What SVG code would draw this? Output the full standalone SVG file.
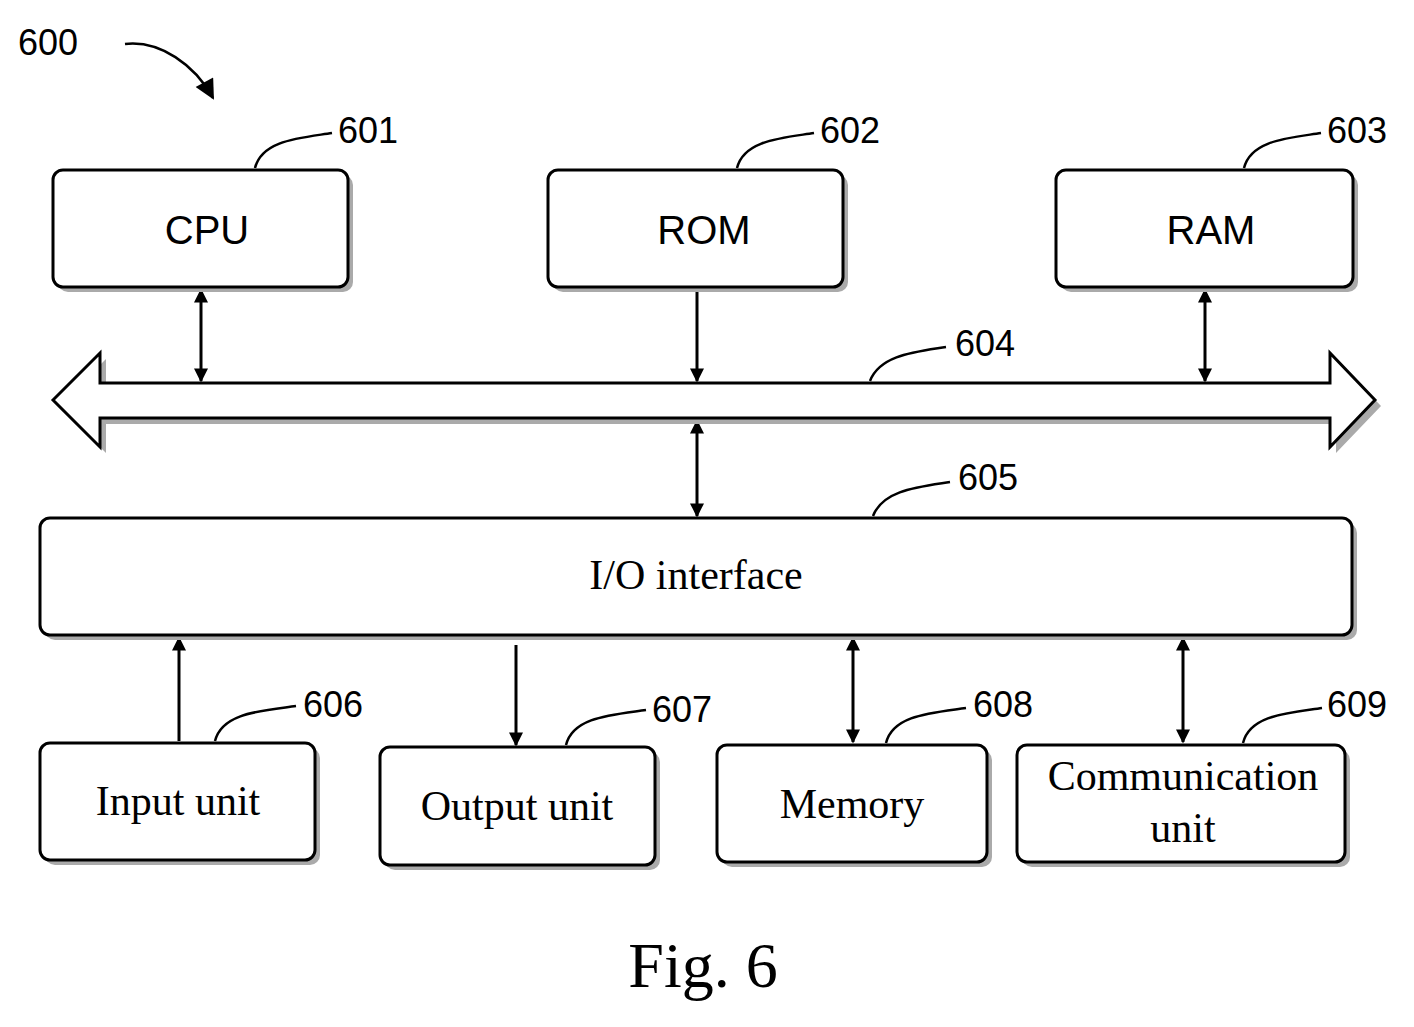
<svg xmlns="http://www.w3.org/2000/svg" width="1414" height="1027" viewBox="0 0 1414 1027">
<style>
.box{fill:#fff;stroke:#000;stroke-width:3}
.sh{fill:#aaa}
.ln{fill:none;stroke:#000;stroke-width:2.5}
.ar{fill:none;stroke:#000;stroke-width:3}
.sans{font-family:"Liberation Sans",Arial,sans-serif;fill:#000}
.serif{font-family:"Liberation Serif","Times New Roman",serif;fill:#000}
</style>
<defs>
<marker id="ah" viewBox="0 0 10 10" refX="9" refY="5" markerWidth="20" markerHeight="14" markerUnits="userSpaceOnUse" orient="auto-start-reverse"><path d="M0,0 L10,5 L0,10 z" fill="#000"/></marker>
<marker id="ah2" viewBox="0 0 10 10" refX="9" refY="5" markerWidth="24" markerHeight="20" markerUnits="userSpaceOnUse" orient="auto"><path d="M0,0 L10,5 L0,10 z" fill="#000"/></marker>
</defs>
<text class="sans" x="18" y="55" font-size="36">600</text>
<g id="connectors">
<path class="ln" stroke-width="3.5" d="M125,44 C160,40 195,65 213,98" marker-end="url(#ah2)"/>
<path class="ln" d="M255,168 C262,140 300,138 332,133"/>
<path class="ln" d="M737,168 C744,140 782,138 814,133"/>
<path class="ln" d="M1244,168 C1251,140 1289,138 1321,133"/>
<path class="ln" d="M870,381 C880,355 915,352 946,347"/>
<path class="ln" d="M873,516 C883,490 918,487 950,482"/>
<path class="ln" d="M215,741 C222,713 260,711 296,706"/>
<path class="ln" d="M566,745 C573,717 611,715 646,710"/>
<path class="ln" d="M886,743 C893,715 931,713 966,708"/>
<path class="ln" d="M1243,743 C1250,715 1288,713 1322,708"/>
<line class="ar" x1="201" y1="290" x2="201" y2="381" marker-start="url(#ah)" marker-end="url(#ah)"/>
<line class="ar" x1="697" y1="290" x2="697" y2="381" marker-end="url(#ah)"/>
<line class="ar" x1="1205" y1="290" x2="1205" y2="381" marker-start="url(#ah)" marker-end="url(#ah)"/>
<line class="ar" x1="697" y1="421" x2="697" y2="516" marker-start="url(#ah)" marker-end="url(#ah)"/>
<line class="ar" x1="179" y1="741" x2="179" y2="638" marker-end="url(#ah)"/>
<line class="ar" x1="516" y1="645" x2="516" y2="745" marker-end="url(#ah)"/>
<line class="ar" x1="853" y1="638" x2="853" y2="742" marker-start="url(#ah)" marker-end="url(#ah)"/>
<line class="ar" x1="1183" y1="638" x2="1183" y2="742" marker-start="url(#ah)" marker-end="url(#ah)"/>
</g>
<g id="bus">
<path class="sh" d="M59,406 L106,359 L106,389 L1336,389 L1336,359 L1381,406 L1336,453 L1336,424 L106,424 L106,453 z"/>
<path fill="#fff" stroke="#000" stroke-width="3" d="M53,400 L100,353 L100,383 L1330,383 L1330,353 L1375,400 L1330,447 L1330,418 L100,418 L100,447 z"/>
<text class="sans" x="955" y="356" font-size="36">604</text>
</g>
<g id="cpu"><rect class="sh" x="58" y="175" width="295" height="117" rx="10"/><rect class="box" x="53" y="170" width="295" height="117" rx="10"/><text class="sans" x="207" y="244" font-size="40" text-anchor="middle">CPU</text><text class="sans" x="338" y="143" font-size="36">601</text></g>
<g id="rom"><rect class="sh" x="553" y="175" width="295" height="117" rx="10"/><rect class="box" x="548" y="170" width="295" height="117" rx="10"/><text class="sans" x="704" y="244" font-size="40" text-anchor="middle">ROM</text><text class="sans" x="820" y="143" font-size="36">602</text></g>
<g id="ram"><rect class="sh" x="1061" y="175" width="297" height="117" rx="10"/><rect class="box" x="1056" y="170" width="297" height="117" rx="10"/><text class="sans" x="1211" y="244" font-size="40" text-anchor="middle">RAM</text><text class="sans" x="1327" y="143" font-size="36">603</text></g>
<g id="io"><rect class="sh" x="45" y="523" width="1312" height="117" rx="10"/><rect class="box" x="40" y="518" width="1312" height="117" rx="10"/><text class="serif" x="696" y="589" font-size="42" text-anchor="middle">I/O interface</text><text class="sans" x="958" y="490" font-size="36">605</text></g>
<g id="input"><rect class="sh" x="45" y="748" width="275" height="117" rx="10"/><rect class="box" x="40" y="743" width="275" height="117" rx="10"/><text class="serif" x="178" y="815" font-size="42" text-anchor="middle">Input unit</text><text class="sans" x="303" y="717" font-size="36">606</text></g>
<g id="output"><rect class="sh" x="385" y="752" width="275" height="118" rx="10"/><rect class="box" x="380" y="747" width="275" height="118" rx="10"/><text class="serif" x="517" y="820" font-size="42" text-anchor="middle">Output unit</text><text class="sans" x="652" y="722" font-size="36">607</text></g>
<g id="memory"><rect class="sh" x="722" y="750" width="270" height="117" rx="10"/><rect class="box" x="717" y="745" width="270" height="117" rx="10"/><text class="serif" x="852" y="818" font-size="42" text-anchor="middle">Memory</text><text class="sans" x="973" y="717" font-size="36">608</text></g>
<g id="comm"><rect class="sh" x="1022" y="750" width="328" height="117" rx="10"/><rect class="box" x="1017" y="745" width="328" height="117" rx="10"/><text class="serif" x="1183" y="790" font-size="42" text-anchor="middle">Communication</text><text class="serif" x="1183" y="842" font-size="42" text-anchor="middle">unit</text><text class="sans" x="1327" y="717" font-size="36">609</text></g>
<text class="serif" x="703" y="987" font-size="64" text-anchor="middle">Fig. 6</text>
</svg>
